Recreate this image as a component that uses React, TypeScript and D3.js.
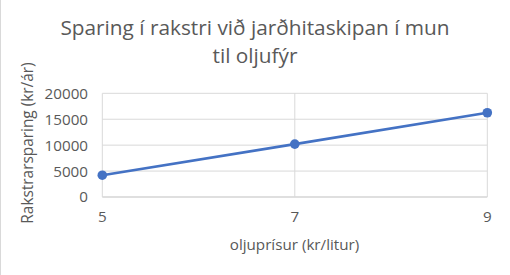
import React from "react";
import * as d3 from "d3";

// Oil price (kr/litur) against yearly saving (kr/ár)
const categories: string[] = ["5", "7", "9"];
const savings: number[] = [4200, 10200, 16250];
const yTicks: number[] = [0, 5000, 10000, 15000, 20000];
const titleLines: string[] = ["Sparing í rakstri við jarðhitaskipan í mun", "til oljufýr"];
const xTitle = "oljuprísur (kr/litur)";
const yTitle = "Rakstrarsparing (kr/ár)";

const W = 510;
const H = 275;
const plot = { left: 102.3, right: 487.3, top: 93.3, bottom: 197 };
const FONT = "'Open Sans', 'Noto Sans', sans-serif";
const TEXT = "#595959";

export default function App() {
  const x = d3.scalePoint<string>().domain(categories).range([plot.left, plot.right]);
  const y = d3.scaleLinear().domain([0, 20000]).range([plot.bottom, plot.top]);
  const line = d3
    .line<number>()
    .x((_, i) => x(categories[i]) as number)
    .y((d) => y(d));

  return (
    <svg
      width={W}
      height={H}
      style={{ position: "absolute", left: 0, top: 0, background: "#fff" }}
      fontFamily={FONT}
    >
      <rect x={0.5} y={-1} width={W + 2} height={H + 2} fill="#fff" stroke="#d9d9d9" />
      {/* title */}
      {titleLines.map((t, i) => (
        <text
          key={t}
          x={255}
          y={35 + i * 28}
          textAnchor="middle"
          fontSize={20.8}
          fill={TEXT}
        >
          {t}
        </text>
      ))}
      {/* horizontal gridlines */}
      {yTicks.map((v) => (
        <line
          key={`h${v}`}
          x1={plot.left}
          x2={plot.right}
          y1={y(v)}
          y2={y(v)}
          stroke={v === 0 ? "#bfbfbf" : "#d9d9d9"}
          strokeWidth={1}
        />
      ))}
      {/* vertical gridlines */}
      {categories.map((c) => (
        <line
          key={`v${c}`}
          x1={x(c)}
          x2={x(c)}
          y1={plot.top}
          y2={plot.bottom}
          stroke="#d9d9d9"
          strokeWidth={1}
        />
      ))}
      {/* y tick labels */}
      {yTicks.map((v) => (
        <text
          key={`yl${v}`}
          x={88}
          y={y(v)}
          dy="0.36em"
          textAnchor="end"
          fontSize={15.2}
          fill={TEXT}
        >
          {v}
        </text>
      ))}
      {/* x tick labels */}
      {categories.map((c) => (
        <text key={`xl${c}`} x={x(c)} y={222} textAnchor="middle" fontSize={15.2} fill={TEXT}>
          {c}
        </text>
      ))}
      {/* axis titles */}
      <text x={294.5} y={250} textAnchor="middle" fontSize={15.2} fill={TEXT}>
        {xTitle}
      </text>
      <text
        transform={`translate(33, 143) rotate(-90)`}
        textAnchor="middle"
        fontSize={15.4}
        fill={TEXT}
      >
        {yTitle}
      </text>
      {/* series */}
      <path d={line(savings) ?? ""} fill="none" stroke="#4472C4" strokeWidth={2.6} strokeLinecap="round" />
      {savings.map((v, i) => (
        <circle key={`p${i}`} cx={x(categories[i])} cy={y(v)} r={4.8} fill="#4472C4" />
      ))}
    </svg>
  );
}
